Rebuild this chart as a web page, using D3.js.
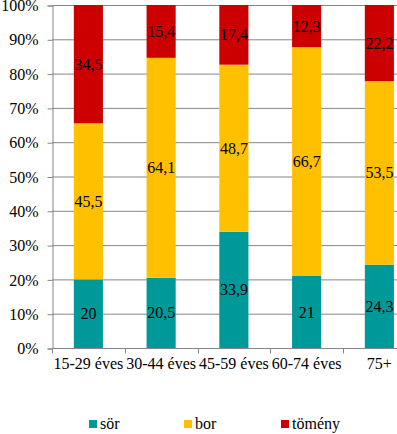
<!DOCTYPE html>
<html>
<head>
<meta charset="utf-8">
<script src="https://cdn.jsdelivr.net/npm/d3@7"></script>
<style>
  body { margin: 0; background: #fff; }
  svg text { font-family: "Liberation Serif", "Times New Roman", serif !important; }
</style>
</head>
<body>
<div id="chart"></div>
<script>
// ==== DATA ====
const CATEGORIES = ["15-29 éves", "30-44 éves", "45-59 éves", "60-74 éves", "75+"];
const SOR = [20, 20.5, 33.9, 21, 24.3];
const BOR = [45.5, 64.1, 48.7, 66.7, 53.5];
const TOMENY = [34.5, 15.4, 17.4, 12.3, 22.2];
const SERIES_NAMES = ["sör", "bor", "tömény"];
const Y_TICKS = [0, 10, 20, 30, 40, 50, 60, 70, 80, 90, 100];

// ==== SIZE ====
const width = 397, height = 434;
const margin = { left: 52, top: 5, bottom: 348 };
const bandW = 72.75;
const FONT = 16;

const COLORS = ["#009999", "#ffc000", "#cc0000"];

const svg = d3.select("#chart").append("svg")
  .attr("width", width).attr("height", height)
  .attr("font-family", "Liberation Serif, serif");

// ==== SCALES ====
const x = d3.scaleBand().domain(CATEGORIES)
  .range([margin.left, margin.left + bandW * CATEGORIES.length])
  .paddingInner(0.6).paddingOuter(0.3);
const y = d3.scaleLinear().domain([0, 100]).range([margin.bottom, margin.top]);

// rows for stacking
const rows = CATEGORIES.map((c, i) => ({ cat: c, "sör": SOR[i], "bor": BOR[i], "tömény": TOMENY[i] }));
const stack = d3.stack().keys(SERIES_NAMES)(rows);

// gridlines
svg.append("g").selectAll("line")
  .data(Y_TICKS.slice(1))
  .join("line")
  .attr("x1", margin.left).attr("x2", width)
  .attr("y1", d => y(d) + 0.5).attr("y2", d => y(d) + 0.5)
  .attr("stroke", "#868686").attr("stroke-width", 1);

// y axis
const gy = svg.append("g").attr("transform", `translate(${margin.left + 0.5},0.5)`)
  .call(d3.axisLeft(y).tickValues(Y_TICKS).tickSize(5).tickPadding(9).tickFormat(d => d + "%"));
gy.attr("font-family", null).attr("font-size", null);
gy.select(".domain").attr("stroke", "#868686");
gy.selectAll(".tick line").attr("stroke", "#868686");
gy.selectAll("text").attr("font-size", FONT).attr("fill", "#000");

// bars
const gBars = svg.append("g");
stack.forEach((s, k) => {
  gBars.append("g").attr("fill", COLORS[k])
    .selectAll("rect")
    .data(s)
    .join("rect")
    .attr("x", d => x(d.data.cat))
    .attr("width", x.bandwidth())
    .attr("y", d => y(d[1]))
    .attr("height", d => y(d[0]) - y(d[1]));
});

// value labels
stack.forEach((s, k) => {
  gBars.append("g")
    .selectAll("text")
    .data(s)
    .join("text")
    .attr("x", d => x(d.data.cat) + x.bandwidth() / 2)
    .attr("y", d => (y(d[0]) + y(d[1])) / 2)
    .attr("dy", "0.35em")
    .attr("text-anchor", "middle")
    .attr("font-size", FONT)
    .attr("fill", "#000")
    .text(d => String(+(d[1] - d[0]).toFixed(1)).replace(".", ","));
});

// x axis
const gx = svg.append("g").attr("transform", `translate(0,${margin.bottom + 0.5})`);
gx.append("line").attr("x1", margin.left).attr("x2", width).attr("y1", 0).attr("y2", 0)
  .attr("stroke", "#868686");
gx.selectAll("line.tk")
  .data(d3.range(CATEGORIES.length + 1))
  .join("line").attr("class", "tk")
  .attr("x1", i => Math.round(margin.left + i * bandW) + 0.5)
  .attr("x2", i => Math.round(margin.left + i * bandW) + 0.5)
  .attr("y1", 0).attr("y2", 5)
  .attr("stroke", "#868686");
gx.selectAll("text")
  .data(CATEGORIES)
  .join("text")
  .attr("x", d => x(d) + x.bandwidth() / 2)
  .attr("y", 20)
  .attr("text-anchor", "middle")
  .attr("font-size", FONT)
  .attr("fill", "#000")
  .text(d => d);

// legend
const LEGEND_X = [89, 184, 281];
const legend = svg.append("g").selectAll("g")
  .data(SERIES_NAMES)
  .join("g")
  .attr("transform", (d, i) => `translate(${LEGEND_X[i]},420)`);
legend.append("rect").attr("width", 8).attr("height", 8)
  .attr("fill", (d, i) => COLORS[i]);
legend.append("text").attr("x", 11).attr("y", 9)
  .attr("font-size", FONT).attr("fill", "#000").text(d => d);
</script>
</body>
</html>
